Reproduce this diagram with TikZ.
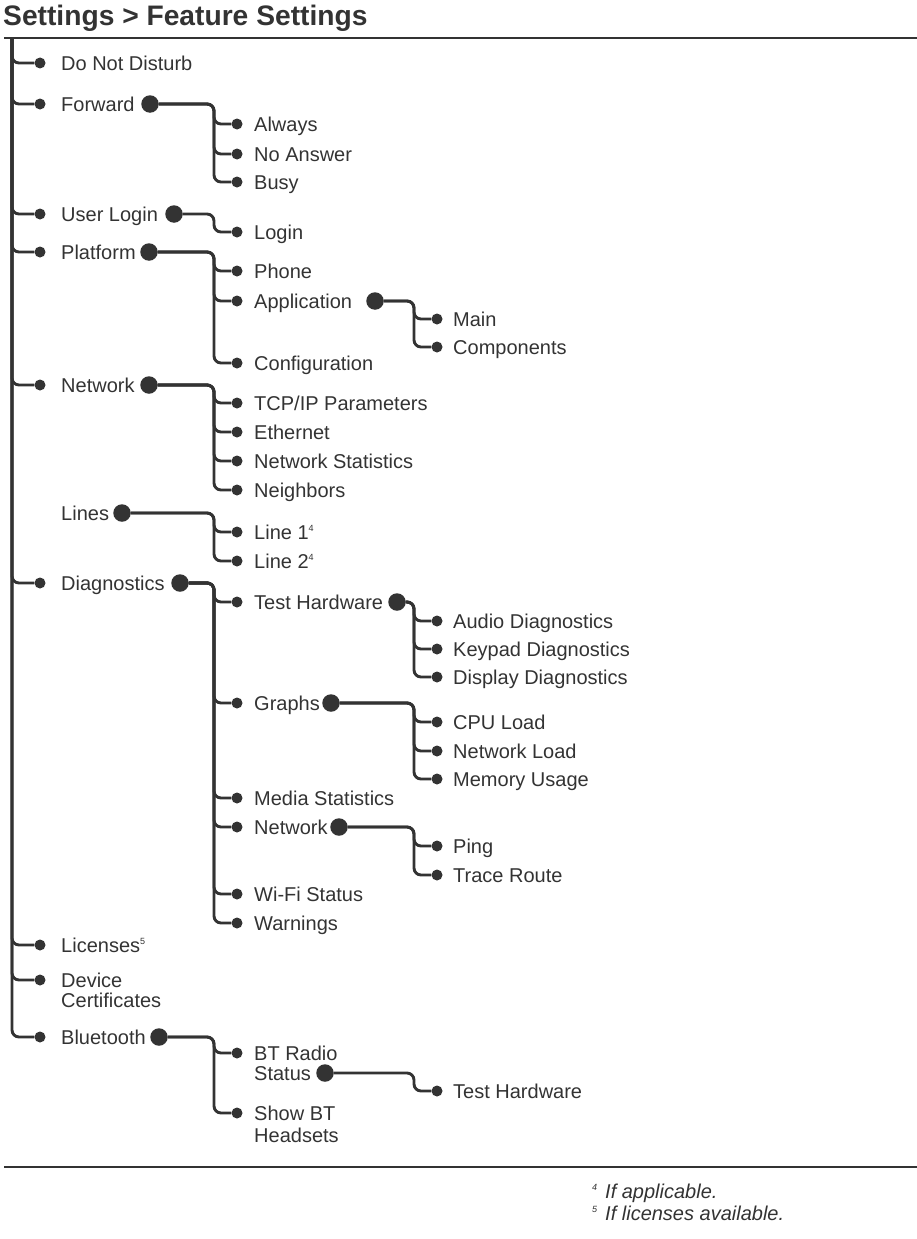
\documentclass[tikz,border=0pt]{standalone}
\usepackage{fontspec}
\setmainfont{Liberation Sans}
\definecolor{menuink}{RGB}{51,51,51}
\newcommand\fnmark[1]{\raisebox{7.5pt}{\fontsize{9}{9}\selectfont #1}}

\tikzset{
  wire/.style={line width=2.9pt, draw=menuink, rounded corners=7pt},
  rule/.style={line width=2.6pt, draw=menuink},
  leaf/.style={circle, fill=menuink, inner sep=0pt, minimum size=11pt},
  hub/.style={circle, fill=menuink, inner sep=0pt, minimum size=17.5pt},
  lbl/.style={anchor=west, inner sep=0pt, text=menuink, text height=14.3pt, text depth=0pt, font=\fontsize{20}{20}\selectfont},
  lbl2/.style={anchor=north west, inner sep=0pt, text=menuink, align=left, font=\fontsize{20}{20}\selectfont},
  note/.style={lbl, font=\fontsize{20}{20}\selectfont\itshape},
}

\begin{document}
\begin{tikzpicture}[x=1pt, y=-1pt]
  \useasboundingbox (0,0) rectangle (917,1239);

  %--- Title and rules ---
  \node[anchor=base west, inner sep=0pt, text=menuink, font=\bfseries\fontsize{28.2}{30}\selectfont] (title) at (3,26) {Settings > Feature Settings};
  \draw[rule] (4,38) -- (917,38);
  \draw[rule] (4,1167) -- (917,1167);

  %--- Main trunk ---
  \coordinate (root) at (12,38);

  % Level 1
  \foreach \nm/\yy/\txt in {dnd/63/Do Not Disturb, fwd/104/Forward, ulog/214/User Login, plat/252/Platform, net/385/Network, diag/583/Diagnostics, lic/945/{Licenses\fnmark{5}}, bt/1037/Bluetooth}{
    \node[leaf] (\nm) at (40,\yy) {};
    \node[lbl] (\nm-t) at (61,\yy) {\txt};
    \draw[wire] (root) |- (\nm);
  }
  \node[leaf] (cert) at (40,980) {};
  \node[lbl2] (cert-t) at (61,973) {Device\\Certificates};
  \draw[wire] (root) |- (cert);
  \node[lbl] (lines-t) at (61,513) {Lines};

  % Level 1 hubs
  \node[hub] (fwd-h) at (150,104) {};
  \node[hub] (ulog-h) at (174,214) {};
  \node[hub] (plat-h) at (149,252) {};
  \node[hub] (net-h) at (149,385) {};
  \node[hub] (lines-h) at (122,513) {};
  \node[hub] (diag-h) at (180,583) {};
  \node[hub] (bt-h) at (159,1037) {};
  \foreach \nm/\yy in {fwd/104, ulog/214, plat/252, net/385, lines/513, diag/583, bt/1037}
    \coordinate (\nm-j) at (214,\yy);

  %--- Level 2 ---
  \foreach \up/\nm/\yy/\txt in {fwd/always/124/Always, fwd/noans/154/No Answer, fwd/busy/182/Busy,
      ulog/login/232/Login,
      plat/phone/271/Phone, plat/app/301/Application, plat/config/363/Configuration,
      net/tcpip/403/{TCP/IP Parameters}, net/eth/432/Ethernet, net/nstat/461/Network Statistics, net/neigh/490/Neighbors,
      lines/line1/532/{Line 1\fnmark{4}}, lines/line2/561/{Line 2\fnmark{4}},
      diag/testhw/602/Test Hardware, diag/graphs/703/Graphs, diag/media/798/Media Statistics,
      diag/dnet/827/Network, diag/wifi/894/Wi-Fi Status, diag/warn/923/Warnings}{
    \node[leaf] (\nm) at (237,\yy) {};
    \node[lbl] (\nm-t) at (254,\yy) {\txt};
    \draw[wire] (\up-h) -- (\up-j) |- (\nm);
  }

  % Bluetooth children
  \node[leaf] (btradio) at (237,1053) {};
  \node[lbl2] (btradio-t) at (254,1046) {BT Radio\\Status};
  \node[leaf] (showbt) at (237,1113) {};
  \node[lbl2] (showbt-t) at (254,1106) {Show BT\\[2pt]Headsets};
  \draw[wire] (bt-h) -- (bt-j) |- (btradio);
  \draw[wire] (bt-h) -- (bt-j) |- (showbt);

  % Level 2 hubs
  \node[hub] (app-h) at (375,301) {};
  \node[hub] (testhw-h) at (397,602) {};
  \node[hub] (graphs-h) at (331,703) {};
  \node[hub] (dnet-h) at (339,827) {};
  \node[hub] (btradio-h) at (325,1073) {};
  \foreach \nm/\yy in {app/301, testhw/602, graphs/703, dnet/827, btradio/1073}
    \coordinate (\nm-j) at (414,\yy);

  %--- Level 3 ---
  \foreach \up/\nm/\yy/\txt in {app/main/319/Main, app/comp/347/Components,
      testhw/audio/621/Audio Diagnostics, testhw/keypad/649/Keypad Diagnostics, testhw/display/677/Display Diagnostics,
      graphs/cpu/722/CPU Load, graphs/nload/751/Network Load, graphs/mem/779/Memory Usage,
      dnet/ping/846/Ping, dnet/trace/875/Trace Route,
      btradio/bttest/1091/Test Hardware}{
    \node[leaf] (\nm) at (437,\yy) {};
    \node[lbl] (\nm-t) at (453,\yy) {\txt};
    \draw[wire] (\up-h) -- (\up-j) |- (\nm);
  }

  %--- Footnotes ---
  \node[note] (fn4) at (592,1191) {\fnmark{4}\hspace{8pt}If applicable.};
  \node[note] (fn5) at (592,1213) {\fnmark{5}\hspace{8pt}If licenses available.};
\end{tikzpicture}
\end{document}
